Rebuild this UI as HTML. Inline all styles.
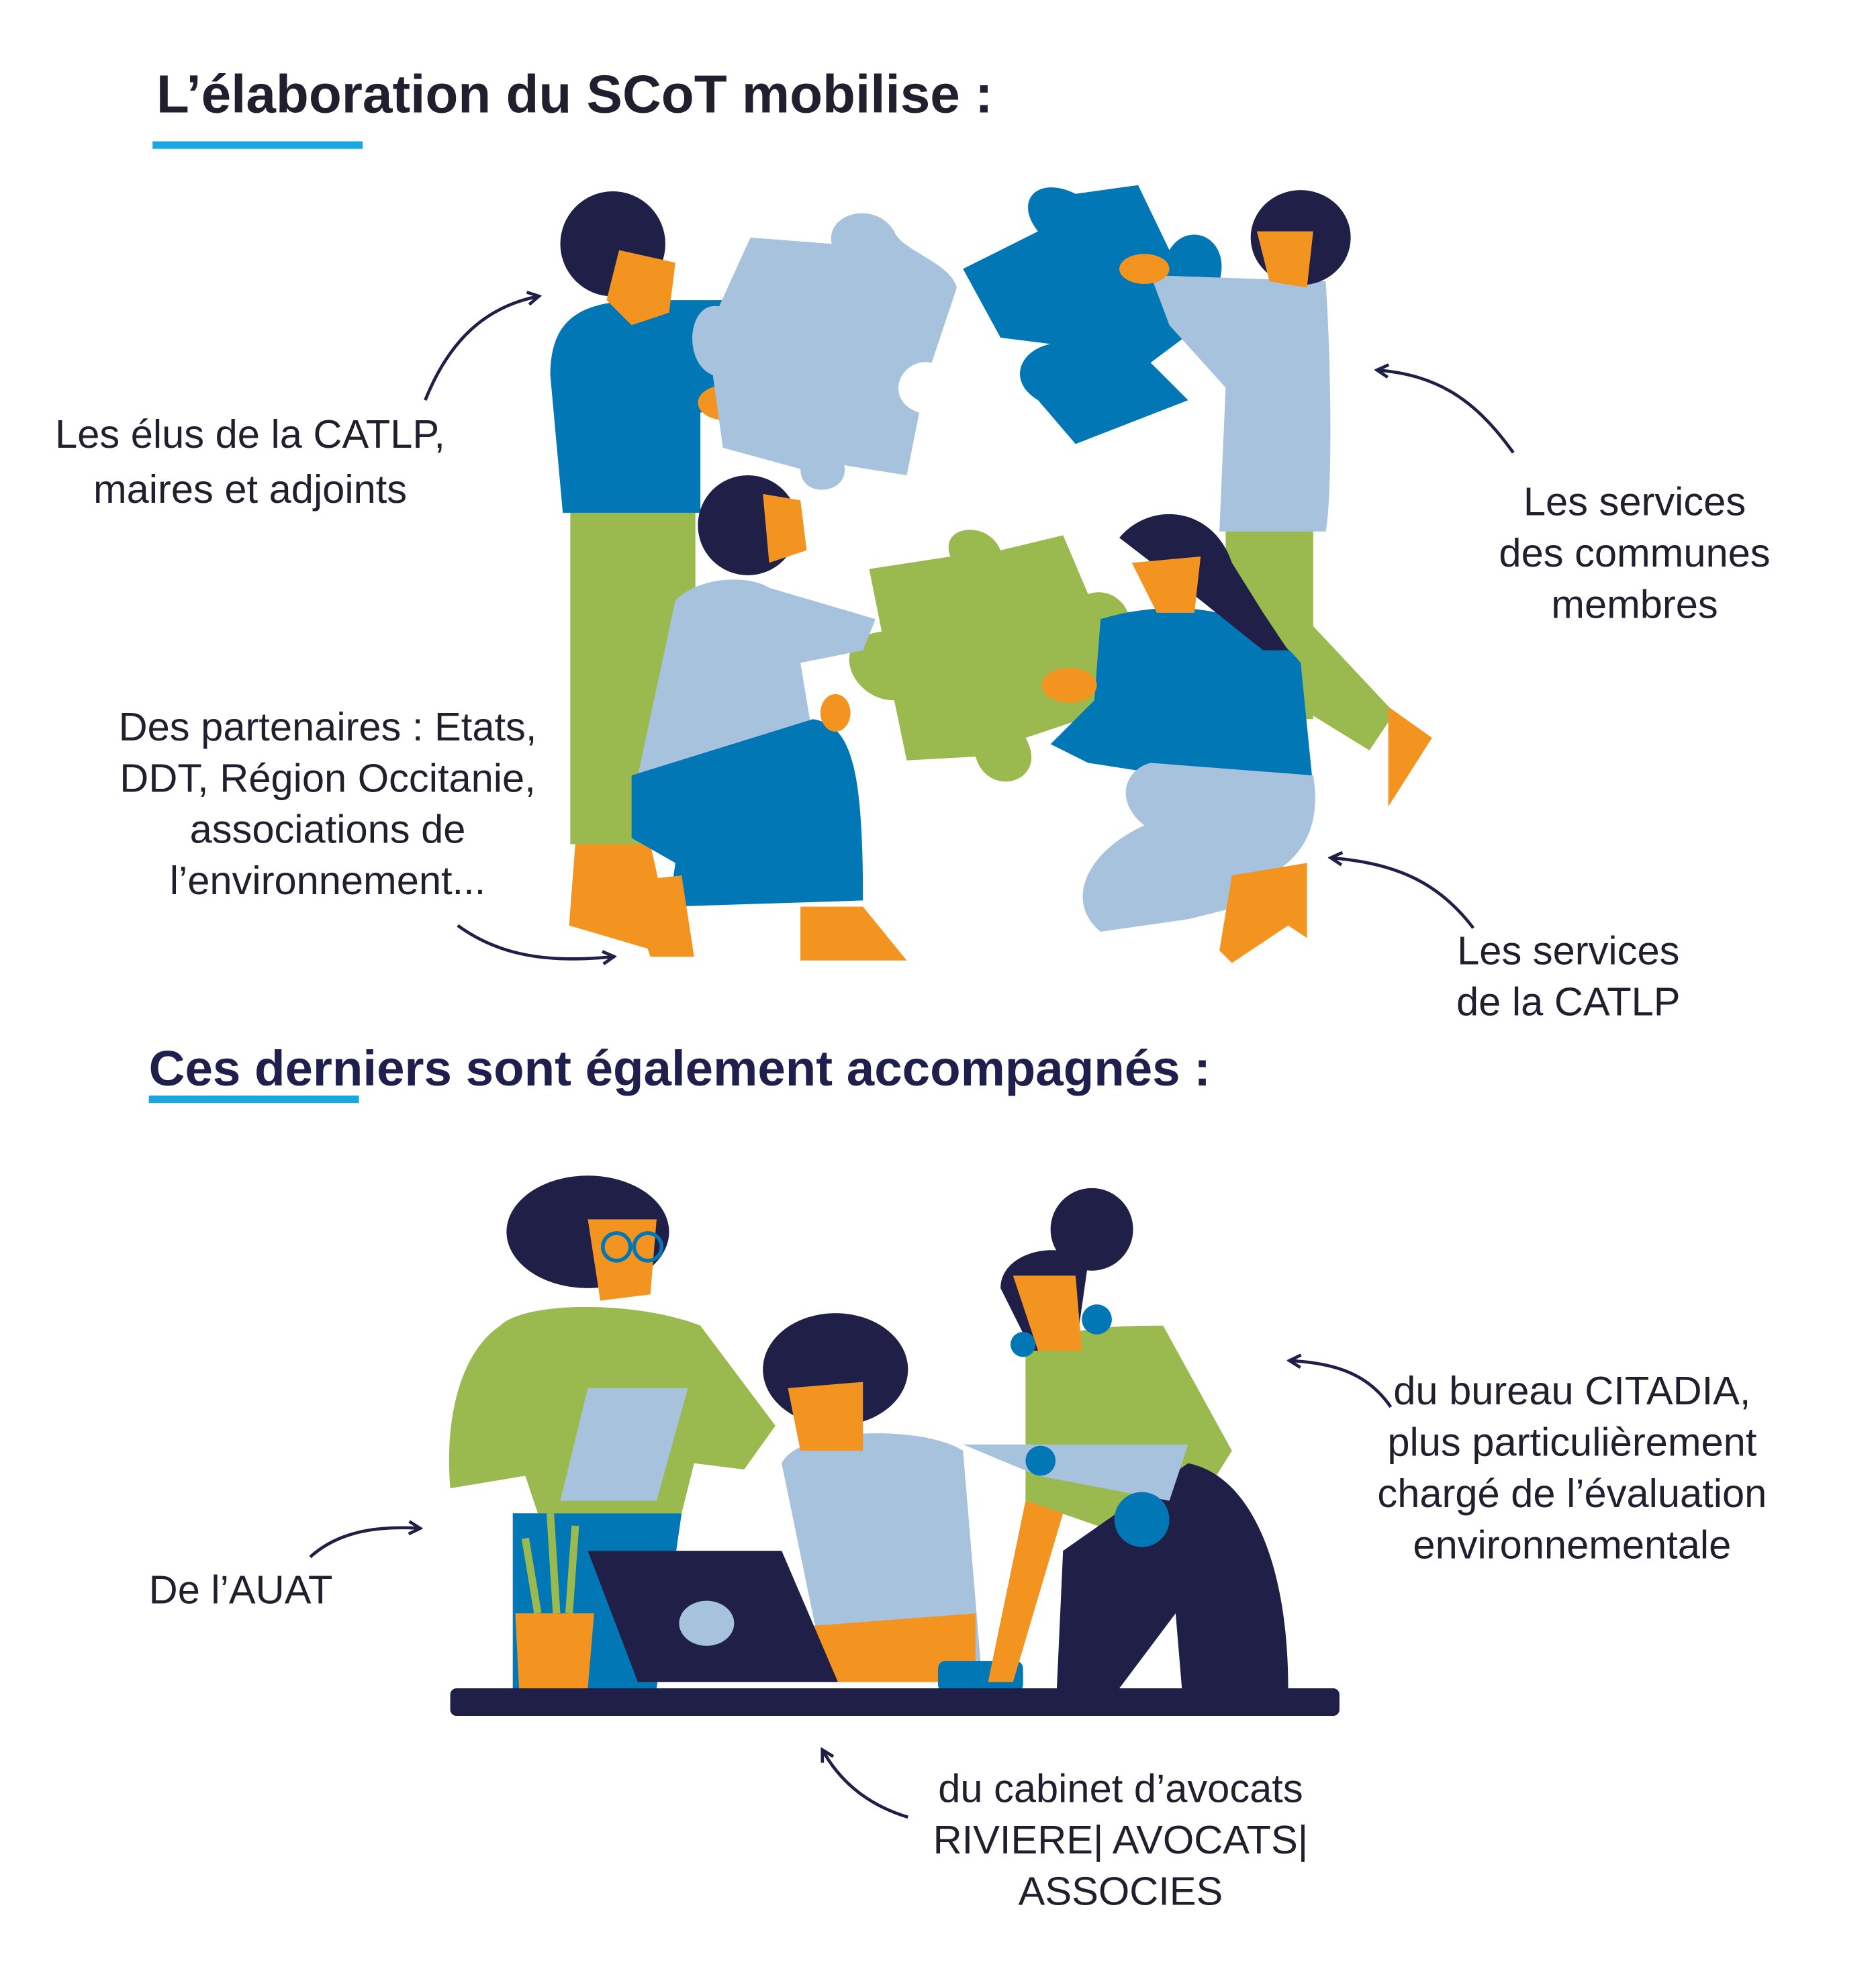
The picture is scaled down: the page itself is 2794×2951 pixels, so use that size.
<!DOCTYPE html>
<html><head><meta charset="utf-8"><style>
html,body{margin:0;padding:0;background:#fff}
svg{display:block}
text{font-family:"Liberation Sans",sans-serif;fill:#1f1f2e}
.lab{font-size:32px;text-anchor:middle}
.t{font-size:40px;font-weight:bold}
</style></head><body>
<svg width="2794" height="2951" viewBox="0 0 1500 1584" preserveAspectRatio="none" xmlns="http://www.w3.org/2000/svg">
<defs><marker id="a" markerWidth="12" markerHeight="12" refX="9" refY="6" orient="auto" markerUnits="userSpaceOnUse"><path d="M1,1 L10,6 L1,11" fill="none" stroke="#1f1f48" stroke-width="2.5"/></marker></defs>
<text x="125" y="90" class="t" fill="#1c1c28" style="font-size:43px">L’élaboration du SCoT mobilise :</text>
<rect x="122" y="113" width="168" height="6" fill="#1aa7e0"/>
<text x="119" y="868" class="t" style="fill:#1f1f4e">Ces derniers sont également accompagnés :</text>
<rect x="119" y="876" width="168" height="6" fill="#1aa7e0"/>
<text class="lab" x="200" y="358">Les élus de la CATLP,</text>
<text class="lab" x="200" y="402">maires et adjoints</text>
<text class="lab" x="1307" y="412">Les services</text>
<text class="lab" x="1307" y="453">des communes</text>
<text class="lab" x="1307" y="494">membres</text>
<text class="lab" x="262" y="592">Des partenaires : Etats,</text>
<text class="lab" x="262" y="633">DDT, Région Occitanie,</text>
<text class="lab" x="262" y="674">associations de</text>
<text class="lab" x="262" y="715">l’environnement...</text>
<text class="lab" x="1254" y="771">Les services</text>
<text class="lab" x="1254" y="812">de la CATLP</text>
<text class="lab" x="119" y="1282" style="text-anchor:start">De l’AUAT</text>
<text class="lab" x="1257" y="1123">du bureau CITADIA,</text>
<text class="lab" x="1257" y="1164">plus particulièrement</text>
<text class="lab" x="1257" y="1205">chargé de l’évaluation</text>
<text class="lab" x="1257" y="1246">environnementale</text>
<text class="lab" x="896" y="1441">du cabinet d’avocats</text>
<text class="lab" x="896" y="1482">RIVIERE| AVOCATS|</text>
<text class="lab" x="896" y="1523">ASSOCIES</text>
<g fill="none" stroke="#1f1f48" stroke-width="2.5" marker-end="url(#a)">
<path d="M340,320 C360,270 390,245 430,237"/>
<path d="M1210,362 C1180,320 1150,300 1102,296"/>
<path d="M366,740 C400,765 440,770 490,765"/>
<path d="M1178,742 C1150,705 1115,690 1065,686"/>
<path d="M248,1245 C270,1225 300,1220 335,1222"/>
<path d="M1112,1125 C1095,1100 1070,1090 1032,1088"/>
<path d="M726,1453 C700,1445 675,1430 658,1400"/>
</g>
<g>
<rect x="456" y="405" width="100" height="270" fill="#9aba4f"/>
<path d="M460,675 L520,675 L540,765 L455,740 Z" fill="#f2941f"/>
<path d="M440,300 C440,250 470,240 520,240 L600,240 L600,320 L560,330 L560,410 L450,410 Z" fill="#0277b6"/>
<circle cx="490" cy="195" r="42" fill="#1f1f48"/>
<path d="M495,200 L540,210 L535,250 L505,260 L485,240 Z" fill="#f2941f"/>
<ellipse cx="580" cy="322" rx="22" ry="14" fill="#f2941f"/>
<path d="M600,190 L665,195 C660,170 700,160 715,185 C720,200 760,210 765,230 L745,290 C720,285 705,320 735,330 L725,380 L675,372 C680,395 640,400 640,375 L578,358 L570,300 C545,290 550,240 575,245 Z" fill="#a6c2dc"/>
<path d="M770,215 L830,185 C810,160 830,140 860,155 L910,148 L935,200 C950,175 985,190 975,225 L960,260 L920,290 L950,320 L860,355 L830,320 C805,305 815,280 840,275 L800,270 Z" fill="#0277b6"/>
<rect x="980" y="415" width="70" height="160" fill="#9aba4f"/>
<path d="M1040,490 L1115,570 L1095,600 L1030,560 Z" fill="#9aba4f"/>
<path d="M1110,565 L1145,590 L1110,645 Z" fill="#f2941f"/>
<path d="M920,220 L1060,225 C1065,300 1065,400 1060,425 L975,425 L980,310 L935,260 Z" fill="#a6c2dc"/>
<ellipse cx="1040" cy="190" rx="40" ry="38" fill="#1f1f48"/>
<path d="M1005,185 L1050,185 L1045,230 L1015,225 Z" fill="#f2941f"/>
<ellipse cx="915" cy="215" rx="20" ry="12" fill="#f2941f"/>
<path d="M695,455 L760,445 C750,420 790,415 800,440 L850,428 L870,475 C900,465 920,510 885,520 L880,570 L820,590 C840,625 790,640 780,605 L725,608 L715,560 C680,560 660,510 705,505 Z" fill="#9aba4f"/>
<path d="M540,480 C560,460 600,460 615,470 L700,495 L690,520 L640,530 L650,590 L510,620 Z" fill="#a6c2dc"/>
<path d="M505,620 L650,575 C680,580 690,610 690,720 L535,725 L540,690 L505,670 Z" fill="#0277b6"/>
<path d="M500,705 L545,700 L555,765 L520,765 Z" fill="#f2941f"/>
<path d="M640,725 L690,725 L725,768 L640,768 Z" fill="#f2941f"/>
<circle cx="598" cy="420" r="40" fill="#1f1f48"/>
<path d="M610,395 L640,400 L645,440 L615,450 Z" fill="#f2941f"/>
<ellipse cx="668" cy="570" rx="12" ry="15" fill="#f2941f"/>
<path d="M880,495 C930,480 1000,480 1040,530 L1050,630 L935,620 L870,610 L840,595 L875,560 Z" fill="#0277b6"/>
<path d="M920,610 L1050,620 C1060,680 1020,700 1000,705 L990,725 L950,735 L880,745 C850,720 870,680 915,660 C890,640 900,615 920,610 Z" fill="#a6c2dc"/>
<path d="M985,700 L1045,690 L1045,750 L1030,740 L985,770 L975,760 Z" fill="#f2941f"/>
<path d="M895,430 C920,400 970,405 985,450 L1010,490 L1030,520 L1010,520 L960,480 Z" fill="#1f1f48"/>
<path d="M905,450 L960,445 L955,490 L925,490 Z" fill="#f2941f"/>
<ellipse cx="855" cy="548" rx="22" ry="14" fill="#f2941f"/>
</g>
<g>
<path d="M400,1060 C420,1040 510,1040 560,1060 L620,1140 L595,1175 L555,1170 L545,1210 L430,1210 L420,1180 L360,1190 C355,1130 370,1080 400,1060 Z" fill="#9aba4f"/>
<path d="M410,1210 L545,1210 L525,1350 L410,1350 Z" fill="#0277b6"/>
<path d="M412,1290 L475,1290 L470,1350 L415,1350 Z" fill="#f2941f"/>
<path d="M420,1230 L430,1290 M440,1210 L445,1290 M460,1220 L455,1290" stroke="#9aba4f" stroke-width="6"/>
<path d="M470,1110 L550,1110 L525,1200 L448,1200 Z" fill="#a6c2dc"/>
<ellipse cx="470" cy="985" rx="65" ry="45" fill="#1f1f48"/>
<path d="M470,975 L525,975 L520,1035 L480,1040 Z" fill="#f2941f"/>
<circle cx="493" cy="997" r="11" fill="none" stroke="#0277b6" stroke-width="3"/>
<circle cx="518" cy="997" r="11" fill="none" stroke="#0277b6" stroke-width="3"/>
<path d="M625,1170 C640,1140 740,1140 770,1160 L785,1340 L660,1340 Z" fill="#a6c2dc"/>
<path d="M650,1300 L780,1290 L780,1345 L665,1345 Z" fill="#f2941f"/>
<ellipse cx="668" cy="1095" rx="58" ry="45" fill="#1f1f48"/>
<path d="M630,1110 L690,1105 L690,1160 L640,1160 Z" fill="#f2941f"/>
<path d="M470,1240 L625,1240 L670,1345 L510,1345 Z" fill="#1f1f48"/>
<ellipse cx="565" cy="1298" rx="22" ry="18" fill="#a6c2dc"/>
<rect x="750" y="1328" width="68" height="25" rx="6" fill="#0277b6"/>
<path d="M820,1080 C850,1060 900,1060 930,1060 L985,1160 L935,1240 L820,1200 Z" fill="#9aba4f"/>
<path d="M850,1240 L950,1170 C1000,1180 1030,1250 1030,1350 L945,1350 L940,1290 L895,1350 L845,1350 Z" fill="#1f1f48"/>
<path d="M820,1200 L850,1210 L810,1345 L790,1345 Z" fill="#f2941f"/>
<path d="M770,1155 L950,1155 L935,1200 L830,1180 Z" fill="#a6c2dc"/>
<circle cx="913" cy="1215" r="22" fill="#0277b6"/>
<circle cx="832" cy="1168" r="12" fill="#0277b6"/>
<circle cx="873" cy="983" r="33" fill="#1f1f48"/>
<path d="M800,1030 C800,1000 850,990 870,1010 L860,1080 L825,1080 Z" fill="#1f1f48"/>
<path d="M810,1020 L860,1020 L865,1080 L830,1080 Z" fill="#f2941f"/>
<circle cx="877" cy="1055" r="12" fill="#0277b6"/>
<circle cx="818" cy="1075" r="10" fill="#0277b6"/>
<rect x="360" y="1350" width="711" height="22" rx="5" fill="#1f1f48"/>
</g>
</svg>
</body></html>
